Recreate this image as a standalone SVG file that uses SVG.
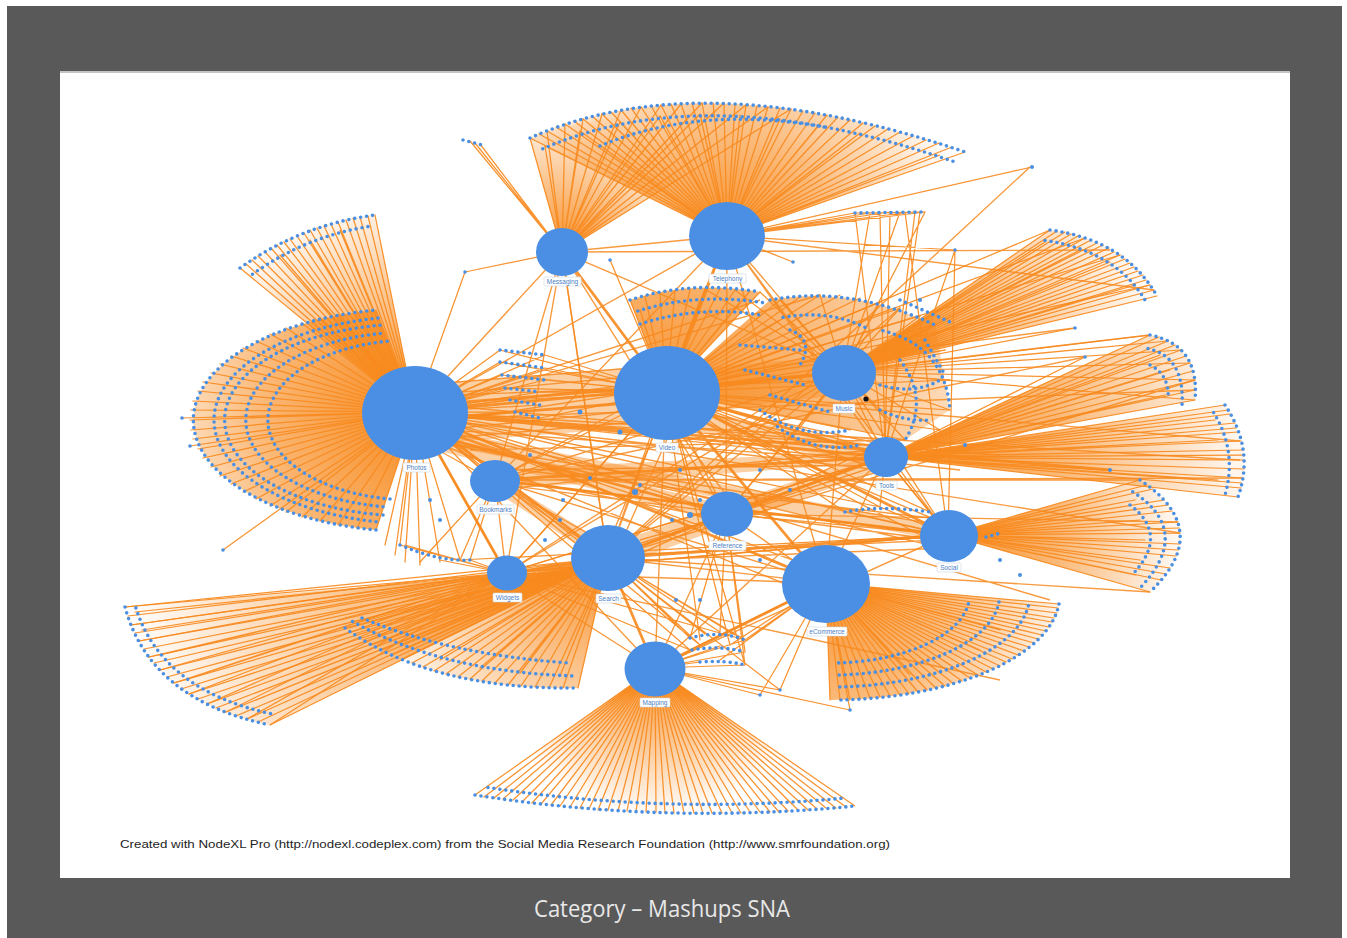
<svg xmlns="http://www.w3.org/2000/svg" width="1347" height="938" viewBox="0 0 1347 938">
<style>
.e{fill:none;stroke:#F78A1E;stroke-width:1.25;stroke-opacity:.92;stroke-linejoin:round}
.eb{fill:none;stroke:#F78A1E;stroke-width:2.8;stroke-opacity:.9;stroke-linecap:round}
.em{fill:none;stroke:#F78A1E;stroke-width:1.4;stroke-opacity:.85}
.lf{fill:none;stroke:#4A8FE2;stroke-width:3.6;stroke-linecap:round;stroke-dasharray:0 6}
.lf2{fill:none;stroke:#4A8FE2;stroke-width:3.6;stroke-linecap:round;stroke-dasharray:0 6;stroke-dashoffset:3}
.hub ellipse{fill:#4A8FE4}
.hub rect{fill:#fff;stroke:#cfd6e0;stroke-width:.6}
.hub text{font-family:"Liberation Sans",Arial,sans-serif;font-size:6.5px;fill:#4D80C4;text-anchor:middle}
.dot{fill:#4A8FE2}
.band{fill:#F78A1E;opacity:.4}
</style>
<defs>
<radialGradient id="gT" gradientUnits="userSpaceOnUse" cx="727" cy="236" r="240"><stop offset="0" stop-color="#F78A1E" stop-opacity=".95"/><stop offset=".45" stop-color="#F78A1E" stop-opacity=".55"/><stop offset="1" stop-color="#F78A1E" stop-opacity="0"/></radialGradient>
<radialGradient id="gM" gradientUnits="userSpaceOnUse" cx="562" cy="252" r="150"><stop offset="0" stop-color="#F78A1E" stop-opacity=".95"/><stop offset="1" stop-color="#F78A1E" stop-opacity="0"/></radialGradient>
<radialGradient id="gP1" gradientUnits="userSpaceOnUse" cx="415" cy="412" r="230"><stop offset="0" stop-color="#F78A1E" stop-opacity=".95"/><stop offset=".5" stop-color="#F78A1E" stop-opacity=".5"/><stop offset="1" stop-color="#F78A1E" stop-opacity="0"/></radialGradient>
<radialGradient id="gP2" gradientUnits="userSpaceOnUse" cx="415" cy="412" r="230"><stop offset="0" stop-color="#F78A1E" stop-opacity="1"/><stop offset=".6" stop-color="#F78A1E" stop-opacity=".65"/><stop offset="1" stop-color="#F78A1E" stop-opacity=".3"/></radialGradient>
<radialGradient id="gMu" gradientUnits="userSpaceOnUse" cx="843" cy="372" r="310"><stop offset="0" stop-color="#F78A1E" stop-opacity=".95"/><stop offset=".5" stop-color="#F78A1E" stop-opacity=".55"/><stop offset="1" stop-color="#F78A1E" stop-opacity=".05"/></radialGradient>
<radialGradient id="gTo" gradientUnits="userSpaceOnUse" cx="885" cy="457" r="350"><stop offset="0" stop-color="#F78A1E" stop-opacity=".95"/><stop offset=".5" stop-color="#F78A1E" stop-opacity=".6"/><stop offset="1" stop-color="#F78A1E" stop-opacity=".08"/></radialGradient>
<radialGradient id="gSo" gradientUnits="userSpaceOnUse" cx="948" cy="535" r="225"><stop offset="0" stop-color="#F78A1E" stop-opacity=".95"/><stop offset=".5" stop-color="#F78A1E" stop-opacity=".6"/><stop offset="1" stop-color="#F78A1E" stop-opacity=".08"/></radialGradient>
<radialGradient id="gE" gradientUnits="userSpaceOnUse" cx="826" cy="583" r="235"><stop offset="0" stop-color="#F78A1E" stop-opacity=".95"/><stop offset=".5" stop-color="#F78A1E" stop-opacity=".6"/><stop offset="1" stop-color="#F78A1E" stop-opacity=".1"/></radialGradient>
<radialGradient id="gMa" gradientUnits="userSpaceOnUse" cx="655" cy="668" r="150"><stop offset="0" stop-color="#F78A1E" stop-opacity=".95"/><stop offset="1" stop-color="#F78A1E" stop-opacity="0"/></radialGradient>
<radialGradient id="gS1" gradientUnits="userSpaceOnUse" cx="590" cy="565" r="470"><stop offset="0" stop-color="#F78A1E" stop-opacity=".95"/><stop offset=".5" stop-color="#F78A1E" stop-opacity=".5"/><stop offset="1" stop-color="#F78A1E" stop-opacity="0"/></radialGradient>
<radialGradient id="gS2" gradientUnits="userSpaceOnUse" cx="608" cy="558" r="260"><stop offset="0" stop-color="#F78A1E" stop-opacity=".95"/><stop offset=".5" stop-color="#F78A1E" stop-opacity=".45"/><stop offset="1" stop-color="#F78A1E" stop-opacity="0"/></radialGradient>
<radialGradient id="gV" gradientUnits="userSpaceOnUse" cx="666" cy="392" r="290"><stop offset="0" stop-color="#F78A1E" stop-opacity=".9"/><stop offset="1" stop-color="#F78A1E" stop-opacity=".3"/></radialGradient>
</defs>
<rect x="7" y="6" width="1335" height="932" fill="#595959"/>
<rect x="60" y="71" width="1230" height="807" fill="#ffffff"/>
<rect x="60" y="71" width="1230" height="2" fill="#8a8a8a" opacity=".5"/>

<g id="connectors">
<path fill="url(#gT)" d="M727 236L530 138Q700 62 965 152Z"/>
<path fill="url(#gM)" d="M562 252L530 138Q600 108 791 109Z"/>
<path fill="url(#gP1)" d="M415 412L240 268Q300 225 375 215Z"/>
<path fill="url(#gP2)" d="M415 412L376 530A225 112 0 0 1 376 310Z"/>
<path fill="url(#gMu)" d="M843 372L1050 230Q1125 240 1157 296Z"/>
<path fill="url(#gTo)" d="M885 457L1150 335Q1200 345 1195 400Z"/>
<path fill="url(#gTo)" d="M885 457L1225 405Q1255 450 1238 497Z"/>
<path fill="url(#gSo)" d="M948 535L1140 480Q1215 530 1150 592Z"/>
<path fill="url(#gE)" d="M826 583L1059 604A230 105 0 0 1 830 700Z"/>
<path fill="url(#gMa)" d="M655 668L475 795Q665 825 855 806Z"/>
<path fill="url(#gS1)" d="M590 568L125 607Q150 700 270 725Z"/>
<path fill="url(#gS2)" d="M608 558L345 628Q430 690 578 688Z"/>
<path fill="url(#gV)" d="M666 392L630 300Q690 280 760 292Z"/>
<path fill="url(#gV)" d="M666 392L770 300Q850 285 935 325L950 410L905 440Z"/>
<path class="band" d="M415 385L666 365L666 425L415 445Z"/>
<path class="band" d="M666 372L843 355L843 395L666 415Z"/>
<path class="band" d="M666 405L885 447L885 468L666 425Z"/>
<path class="band" d="M608 545L885 450L885 468L608 570Z"/>
<path class="band" d="M415 425L948 528L948 542L415 440Z"/>
<path class="band" d="M495 470L885 450L885 462L495 490Z"/>
<path class="band" d="M415 430L726 505L726 522L415 445Z"/>
<path class="band" d="M495 475L608 545L600 560L490 488Z"/>
<path class="e" d="M727 236L530 138 727 236 539 134 727 236 547 131 727 236 556 127 727 236 565 124 727 236 574 121 727 236 583 119 727 236 592 116 727 236 602 114 727 236 611 112 727 236 621 110 727 236 631 108 727 236 641 107 727 236 651 106 727 236 661 105 727 236 671 104 727 236 681 104 727 236 692 103 727 236 702 103 727 236 713 103 727 236 724 103 727 236 735 104 727 236 746 105 727 236 757 106 727 236 768 107 727 236 780 108 727 236 791 109 727 236 803 111 727 236 815 113 727 236 827 115 727 236 838 117 727 236 850 120 727 236 863 123 727 236 875 126 727 236 888 129 727 236 900 132 727 236 913 136 727 236 926 140 727 236 939 143 727 236 952 147 727 236 965 152 727 236 545 146 727 236 580 131 727 236 620 122 727 236 660 116 727 236 700 114 727 236 740 115 727 236 780 119 727 236 820 124 727 236 860 133 727 236 900 143 727 236 940 155"/>
<path class="e" d="M562 252L530 138 562 252 547 131 562 252 565 124 562 252 583 119 562 252 602 114 562 252 621 110 562 252 641 107 562 252 661 105 562 252 681 104 562 252 702 103 562 252 724 103 562 252 746 105 562 252 768 107 562 252 791 109 562 252 545 146 562 252 580 131 562 252 620 122 562 252 660 116 562 252 700 114"/>
<path class="e" d="M415 412L240 268 415 412 246 264 415 412 252 260 415 412 258 256 415 412 265 252 415 412 271 248 415 412 277 245 415 412 284 242 415 412 290 239 415 412 297 236 415 412 304 233 415 412 310 230 415 412 317 228 415 412 324 226 415 412 331 224 415 412 338 222 415 412 346 220 415 412 353 218 415 412 360 217 415 412 368 216 415 412 375 215 415 412 255 272 415 412 280 255 415 412 310 240 415 412 340 230"/>
<path class="e" d="M415 412L376 530 415 412 357 528 415 412 338 525 415 412 320 521 415 412 302 517 415 412 286 512 415 412 270 506 415 412 256 499 415 412 243 492 415 412 231 484 415 412 220 476 415 412 211 467 415 412 203 458 415 412 198 449 415 412 193 439 415 412 191 430 415 412 190 420 415 412 191 410 415 412 193 401 415 412 198 391 415 412 203 382 415 412 211 373 415 412 220 364 415 412 231 356 415 412 243 348 415 412 256 341 415 412 270 334 415 412 286 328 415 412 302 323 415 412 320 319 415 412 338 315 415 412 357 312 415 412 376 310 415 412 182 418 415 412 190 446 415 412 223 550 415 412 385 545 415 412 395 555 415 412 405 562 415 412 420 565 415 412 440 562 415 412 460 560"/>
<path class="e" d="M843 372L1050 230 843 372 1057 231 843 372 1065 232 843 372 1071 234 843 372 1078 236 843 372 1085 238 843 372 1091 240 843 372 1097 243 843 372 1103 245 843 372 1109 248 843 372 1114 252 843 372 1120 255 843 372 1125 259 843 372 1130 263 843 372 1134 267 843 372 1138 271 843 372 1143 275 843 372 1146 280 843 372 1150 285 843 372 1154 290 843 372 1157 296 843 372 1045 242 843 372 1080 250 843 372 1110 262 843 372 1135 285 843 372 1075 328"/>
<path class="e" d="M666 392L1050 230 666 392 1085 238 666 392 1120 255 666 392 1150 285"/>
<path class="e" d="M885 457L1150 335 885 457 1159 337 885 457 1168 341 885 457 1175 345 885 457 1181 350 885 457 1186 356 885 457 1190 363 885 457 1193 371 885 457 1195 380 885 457 1195 390 885 457 1195 400 885 457 1160 355 885 457 1170 370 885 457 1175 385 885 457 1165 395 885 457 1085 357"/>
<path class="e" d="M843 372L1150 335 843 372 1168 341 843 372 1181 350 843 372 1190 363 843 372 1195 380 843 372 1195 400"/>
<path class="e" d="M885 457L1225 405 885 457 1230 414 885 457 1235 423 885 457 1238 432 885 457 1241 441 885 457 1243 450 885 457 1244 460 885 457 1244 469 885 457 1243 478 885 457 1241 488 885 457 1238 497 885 457 1215 420 885 457 1218 440 885 457 1220 460 885 457 1218 480 885 457 1228 410 885 457 1236 428 885 457 1242 455 885 457 1242 483"/>
<path class="e" d="M948 535L1140 480 948 535 1153 489 948 535 1164 500 948 535 1172 511 948 535 1178 522 948 535 1180 533 948 535 1180 544 948 535 1176 556 948 535 1170 568 948 535 1161 580 948 535 1150 592 948 535 1135 500 948 535 1140 520 948 535 1145 540 948 535 1140 560 948 535 1135 575 948 535 1147 485 948 535 1168 505 948 535 1179 528 948 535 1178 550 948 535 1166 574"/>
<path class="e" d="M826 583L1059 604 826 583 1058 608 826 583 1057 613 826 583 1054 618 826 583 1052 622 826 583 1049 627 826 583 1046 631 826 583 1042 635 826 583 1038 639 826 583 1034 643 826 583 1029 647 826 583 1024 651 826 583 1018 655 826 583 1012 659 826 583 1006 662 826 583 1000 666 826 583 993 669 826 583 986 672 826 583 978 675 826 583 970 678 826 583 962 681 826 583 954 684 826 583 945 686 826 583 936 688 826 583 927 690 826 583 918 692 826 583 909 694 826 583 900 695 826 583 890 696 826 583 880 697 826 583 870 698 826 583 860 699 826 583 850 700 826 583 840 700 826 583 830 700 826 583 1000 630 826 583 980 650 826 583 950 665 826 583 910 675"/>
<path class="e" d="M655 668L475 795 655 668 484 797 655 668 494 798 655 668 503 799 655 668 513 800 655 668 522 802 655 668 532 803 655 668 541 804 655 668 551 805 655 668 560 806 655 668 570 807 655 668 580 808 655 668 589 809 655 668 598 810 655 668 608 810 655 668 618 811 655 668 627 811 655 668 636 812 655 668 646 812 655 668 656 812 655 668 665 813 655 668 674 813 655 668 684 813 655 668 694 813 655 668 703 813 655 668 712 813 655 668 722 813 655 668 732 813 655 668 741 813 655 668 750 812 655 668 760 812 655 668 770 812 655 668 779 812 655 668 788 811 655 668 798 810 655 668 808 810 655 668 817 809 655 668 826 808 655 668 836 808 655 668 846 807 655 668 855 806"/>
<path class="e" d="M608 558L125 607 608 558 128 616 608 558 131 625 608 558 135 633 608 558 139 641 608 558 144 649 608 558 149 657 608 558 154 663 608 558 160 670 608 558 167 677 608 558 174 683 608 558 181 689 608 558 189 694 608 558 198 699 608 558 207 704 608 558 216 708 608 558 226 712 608 558 236 716 608 558 247 719 608 558 258 722 608 558 270 725"/>
<path class="e" d="M506 573L125 607 506 573 131 625 506 573 139 641 506 573 149 657 506 573 160 670 506 573 174 683 506 573 189 694 506 573 207 704 506 573 226 712 506 573 247 719 506 573 270 725 506 573 135 612 506 573 142 630 506 573 160 655 506 573 185 680"/>
<path class="e" d="M608 558L345 628 608 558 354 634 608 558 363 640 608 558 372 645 608 558 382 650 608 558 392 655 608 558 402 659 608 558 412 663 608 558 423 667 608 558 434 671 608 558 446 674 608 558 458 677 608 558 470 679 608 558 482 681 608 558 495 683 608 558 508 685 608 558 521 686 608 558 535 687 608 558 549 688 608 558 563 688 608 558 578 688 608 558 360 622 608 558 400 645 608 558 440 660 608 558 480 668 608 558 520 673 608 558 560 676"/>
<path class="e" d="M666 392L630 300 666 392 645 296 666 392 660 293 666 392 675 291 666 392 690 290 666 392 705 289 666 392 720 289 666 392 735 290 666 392 750 291 666 392 760 292 666 392 640 310 666 392 700 300 666 392 740 302 666 392 780 300 666 392 800 297 666 392 820 295 666 392 840 295 666 392 860 298 666 392 880 302 666 392 900 308 666 392 920 316 666 392 935 325 666 392 945 350 666 392 950 380 666 392 950 410 666 392 940 430 666 392 905 440 666 392 850 430 666 392 860 445 666 392 800 440"/>
<path class="e" d="M843 372L760 292 843 372 735 290 843 372 705 289 843 372 880 302 843 372 900 308 843 372 920 316 843 372 935 325 843 372 945 350 843 372 950 380 843 372 950 410 843 372 940 430 843 372 905 440 843 372 890 420 843 372 870 330 843 372 780 300 843 372 820 295 843 372 760 410 843 372 790 440"/>
<path class="e" d="M415 412L500 350 415 412 545 355 415 412 500 362 415 412 545 368 415 412 502 375 415 412 545 380 415 412 505 388 415 412 540 392 415 412 510 400 415 412 540 405 415 412 515 412 415 412 540 418 666 392 500 350 666 392 545 355 666 392 500 362 666 392 545 368 666 392 502 375 666 392 545 380 666 392 505 388 666 392 540 392 666 392 510 400 666 392 540 418"/>
<path class="e" d="M608 558L690 638 608 558 705 634 608 558 720 632 608 558 735 635 608 558 745 640 655 668 692 650 655 668 720 646 655 668 745 652 655 668 700 662 655 668 745 665 726 514 690 638 726 514 720 632 726 514 745 652 726 514 745 665 666 392 700 640 666 392 730 645 826 583 690 650 826 583 720 660 826 583 745 640 506 573 690 650 415 412 700 645 608 558 780 690 655 668 760 695 655 668 850 710 826 583 760 695 826 583 780 690"/>
<path class="e" d="M727 236L855 213 727 236 870 213 727 236 890 212 727 236 910 212 727 236 925 212 855 213L885 457M870 213L843 372M880 213L885 457M890 212L885 457M900 212L843 372M905 212L948 535M915 212L885 457M925 212L843 372M920 212L885 457M727 236L955 250M727 236L793 262M727 236L1032 167M955 250L948 535M955 250L885 457M562 252L470 141M562 252L475 143M562 252L480 144M562 252L465 272M465 272L415 412M610 260L666 392M666 392L845 512 666 392 880 507 666 392 930 512 948 535 845 512 948 535 880 507 948 535 930 512 885 457 880 507 415 412 400 545 506 573 405 545 506 573 440 560 506 573 470 560 495 480 420 562 495 480 460 560 948 535 988 536 948 535 1000 533"/>
<path class="em" d="M415 412L1240 460M415 420L1195 390M415 412L1180 533M495 480L1243 478M608 558L1195 380M666 392L1150 335M666 392L1240 441M495 480L1140 480M608 558L1150 592M726 514L1178 522M415 412L1050 600M562 252L1110 250M727 236L1154 290M415 412L1000 455M415 412L960 470M506 573L1000 680M415 412L1075 328M495 480L1085 357M608 558L1030 167M415 412L760 300M415 412L820 295M495 480L780 320M506 573L760 410M415 412L905 440M608 558L900 308"/>
<path class="em" d="M415 412L948 535M415 412L726 514M415 412L495 480M415 412L562 252M415 412L727 236M415 412L655 668M666 392L726 514M666 392L495 480M666 392L506 573M666 392L608 558M666 392L655 668M843 372L885 457M843 372L948 535M843 372L608 558M843 372L495 480M843 372L726 514M885 457L726 514M885 457L506 573M885 457L826 583M885 457L948 535M948 535L726 514M948 535L495 480M948 535L506 573M826 583L608 558M826 583L726 514M826 583L495 480M826 583L506 573M608 558L726 514M608 558L495 480M608 558L506 573M655 668L506 573M655 668L726 514M562 252L727 236M727 236L843 372M562 252L608 558M562 252L495 480M727 236L885 457M727 236L948 535M727 236L826 583M562 252L843 372M562 252L726 514M727 236L608 558M727 236L495 480M495 480L506 573M415 412L506 573M843 372L826 583M655 668L885 457M655 668L948 535"/>
<path class="em" d="M430 395L650 375M440 430L640 410M425 440L660 420M420 385L670 365M440 420L880 470M440 405L870 445M450 430L890 462M440 430L930 545M430 440L940 525M440 430L710 520M430 440L720 500M420 440L600 540M440 430L590 550M430 440L800 590M440 430L820 570M680 400L880 470M690 410L870 450M680 410L940 545M660 420L610 540M680 410L620 545M670 420L730 500M500 470L880 465M495 490L870 450M505 485L940 540M620 550L880 465M615 565L870 450M620 555L940 540M726 514L843 372M506 573L885 457M506 573L948 535M506 573L666 392M506 573L843 372M562 252L506 573M562 252L608 560M727 236L726 514M455 395L843 380M455 420L843 360M470 450L885 440M520 480L726 520M520 470L948 520M640 540L885 470M640 560L948 548M700 420L948 525M700 405L885 445"/>
<path class="eb" d="M415 406L666 386M415 420L666 400M415 412L885 457M415 412L843 372M666 392L885 457M666 392L948 535M608 558L885 457M608 558L948 535M415 412L826 583M666 392L826 583M495 480L885 457M562 252L666 392M727 236L666 392M826 583L655 668M608 558L655 668M726 514L885 457M506 573L415 412M415 412L608 558M666 392L843 372M415 412L1110 470M495 480L948 535M415 430L726 514"/>
</g>

<g id="leaves">
<path class="lf" d="M530 138Q700 62 965 152"/>
<path class="lf2" d="M540 150Q705 76 955 162"/>
<path class="lf" d="M600 146Q700 104 830 128"/>
<path class="lf" d="M240 268Q300 225 375 215"/>
<path class="lf2" d="M250 276Q305 236 372 226"/>
<path class="lf" d="M463 140L482 145"/>
<path class="lf" d="M376 530A225 112 0 0 1 376 310"/>
<path class="lf2" d="M379 522A205 104 0 0 1 379 318"/>
<path class="lf" d="M383 515A185 96 0 0 1 383 325"/>
<path class="lf2" d="M386 507A165 88 0 0 1 386 333"/>
<path class="lf" d="M390 499A145 80 0 0 1 390 341"/>
<path class="lf" d="M1050 230Q1125 240 1157 296"/>
<path class="lf2" d="M1042 240Q1115 250 1145 300"/>
<path class="lf" d="M1150 335Q1200 345 1195 400"/>
<path class="lf2" d="M1145 348Q1185 355 1182 405"/>
<path class="lf" d="M1150 365Q1170 375 1168 400"/>
<path class="lf" d="M1225 405Q1255 450 1238 497"/>
<path class="lf2" d="M1212 410Q1238 450 1225 495"/>
<path class="lf" d="M1140 480Q1215 530 1150 592"/>
<path class="lf2" d="M1130 490Q1195 530 1140 588"/>
<path class="lf" d="M1130 505Q1170 535 1132 575"/>
<path class="lf" d="M1059 604A230 105 0 0 1 838 700"/>
<path class="lf2" d="M1029 603A200 92 0 0 1 837 687"/>
<path class="lf" d="M999 602A170 80 0 0 1 836 675"/>
<path class="lf2" d="M969 601A140 68 0 0 1 835 663"/>
<path class="lf" d="M475 795Q665 825 855 806"/>
<path class="lf2" d="M485 787Q665 815 845 798"/>
<path class="lf" d="M125 607Q150 700 270 725"/>
<path class="lf2" d="M135 605Q160 690 272 714"/>
<path class="lf" d="M345 628Q430 690 578 688"/>
<path class="lf2" d="M350 620Q440 672 575 676"/>
<path class="lf" d="M362 618Q450 655 570 663"/>
<path class="lf" d="M630 300Q690 280 760 292"/>
<path class="lf2" d="M635 312Q695 292 765 303"/>
<path class="lf" d="M640 324Q700 305 760 315"/>
<path class="lf" d="M770 300Q850 285 935 325"/>
<path class="lf2" d="M880 330Q945 345 950 410"/>
<path class="lf" d="M900 360Q930 400 905 440"/>
<path class="lf" d="M760 410Q800 440 850 430"/>
<path class="lf2" d="M775 425Q815 455 860 445"/>
<path class="lf" d="M880 385Q915 395 940 380"/>
<path class="lf" d="M790 330Q815 340 800 365"/>
<path class="lf2" d="M780 318Q830 308 870 330"/>
<path class="lf" d="M740 345L800 350M745 370L805 385M880 410Q905 422 932 420M900 300L950 322M925 340L945 375M770 395L830 412"/>
<path class="lf" d="M500 350L545 355M500 362L545 368M502 375L545 380M505 388L540 392M510 400L540 405M515 412L540 418"/>
<path class="lf" d="M690 638Q720 630 745 640M692 650Q720 645 745 652M700 662Q725 660 745 665"/>
<path class="lf" d="M845 512Q880 505 930 512"/>
<path class="lf" d="M855 213L925 212"/>
<path class="lf" d="M400 545Q440 562 470 560"/>
<path class="lf" d="M986 537L1001 533"/>
<g class="dot">
<circle cx="465" cy="272" r="1.8"/><circle cx="223" cy="550" r="1.8"/><circle cx="1032" cy="167" r="2"/><circle cx="1075" cy="328" r="1.8"/><circle cx="1085" cy="357" r="1.8"/><circle cx="955" cy="250" r="1.8"/><circle cx="793" cy="262" r="1.8"/><circle cx="610" cy="260" r="1.8"/><circle cx="182" cy="418" r="1.8"/><circle cx="190" cy="446" r="1.8"/><circle cx="850" cy="710" r="1.8"/><circle cx="760" cy="695" r="1.8"/><circle cx="780" cy="690" r="1.8"/><circle cx="640" cy="485" r="2"/><circle cx="620" cy="432" r="2.5"/><circle cx="700" cy="500" r="2"/><circle cx="672" cy="520" r="2"/><circle cx="590" cy="478" r="2"/><circle cx="560" cy="520" r="2"/><circle cx="635" cy="492" r="3"/><circle cx="680" cy="470" r="2"/><circle cx="690" cy="515" r="3"/><circle cx="563" cy="500" r="2"/><circle cx="530" cy="455" r="2"/><circle cx="580" cy="412" r="2.5"/><circle cx="760" cy="470" r="2"/><circle cx="790" cy="490" r="2"/><circle cx="700" cy="600" r="2"/><circle cx="676" cy="600" r="2"/><circle cx="760" cy="560" r="2"/><circle cx="1020" cy="575" r="2"/><circle cx="1000" cy="560" r="2"/><circle cx="440" cy="520" r="2"/><circle cx="430" cy="500" r="2"/><circle cx="545" cy="540" r="2"/><circle cx="1110" cy="470" r="2"/><circle cx="965" cy="445" r="2"/><circle cx="920" cy="300" r="2"/>
</g>
<circle cx="866" cy="399" r="2.6" fill="#111"/>
</g>

<g id="n-messaging" class="hub"><ellipse cx="562" cy="252" rx="26" ry="24"/><rect x="544" y="277" width="37" height="9" rx="1"/><text x="562.5" y="284">Messaging</text></g>
<g id="n-telephony" class="hub"><ellipse cx="727" cy="236" rx="38" ry="34"/><rect x="709" y="274" width="37" height="9" rx="1"/><text x="727.5" y="281">Telephony</text></g>
<g id="n-photos" class="hub"><ellipse cx="415" cy="413" rx="53" ry="47"/><rect x="403" y="463" width="27" height="9" rx="1"/><text x="416.5" y="470">Photos</text></g>
<g id="n-video" class="hub"><ellipse cx="667" cy="393" rx="53" ry="47"/><rect x="656" y="443" width="22" height="9" rx="1"/><text x="667" y="450">Video</text></g>
<g id="n-music" class="hub"><ellipse cx="844" cy="373" rx="32" ry="28"/><rect x="833" y="404" width="22" height="9" rx="1"/><text x="844" y="411">Music</text></g>
<g id="n-tools" class="hub"><ellipse cx="886" cy="457" rx="22" ry="20"/><rect x="876" y="481" width="21" height="9" rx="1"/><text x="886.5" y="488">Tools</text></g>
<g id="n-bookmarks" class="hub"><ellipse cx="495" cy="481" rx="25" ry="21"/><rect x="477" y="505" width="37" height="9" rx="1"/><text x="495.5" y="512">Bookmarks</text></g>
<g id="n-reference" class="hub"><ellipse cx="727" cy="514" rx="26" ry="22.5"/><rect x="709" y="541" width="37" height="9" rx="1"/><text x="727.5" y="548">Reference</text></g>
<g id="n-social" class="hub"><ellipse cx="949" cy="536" rx="29" ry="26"/><rect x="937" y="563" width="24" height="9" rx="1"/><text x="949" y="570">Social</text></g>
<g id="n-widgets" class="hub"><ellipse cx="507" cy="573" rx="20" ry="17.5"/><rect x="493" y="593" width="29" height="9" rx="1"/><text x="507.5" y="600">Widgets</text></g>
<g id="n-search" class="hub"><ellipse cx="608" cy="558" rx="37" ry="33"/><rect x="596" y="594" width="25" height="9" rx="1"/><text x="608.5" y="601">Search</text></g>
<g id="n-ecommerce" class="hub"><ellipse cx="826" cy="584" rx="44" ry="39"/><rect x="807" y="627" width="40" height="9" rx="1"/><text x="827" y="634">eCommerce</text></g>
<g id="n-mapping" class="hub"><ellipse cx="655" cy="669" rx="30.5" ry="27.5"/><rect x="640" y="698" width="30" height="9" rx="1"/><text x="655" y="705">Mapping</text></g>

<text x="120" y="848" font-family="Liberation Sans, Arial, sans-serif" font-size="11.5" fill="#1e1e1e" textLength="770" lengthAdjust="spacingAndGlyphs">Created with NodeXL Pro (http://nodexl.codeplex.com) from the Social Media Research Foundation (http://www.smrfoundation.org)</text>
<text x="662" y="917" font-family="Open Sans, Liberation Sans, sans-serif" font-size="23" fill="#E8E8E8" text-anchor="middle" textLength="256" lengthAdjust="spacingAndGlyphs">Category – Mashups SNA</text>
</svg>
